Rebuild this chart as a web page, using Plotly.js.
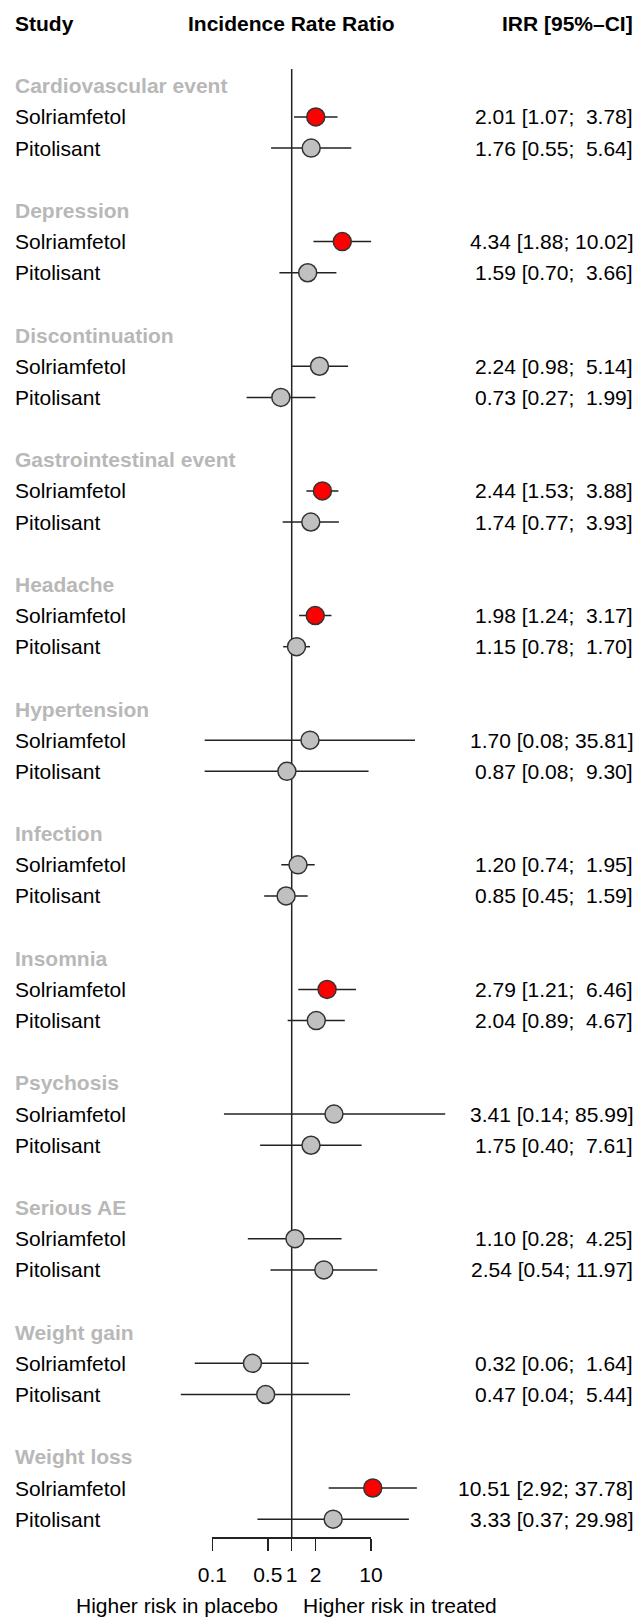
<!DOCTYPE html>
<html>
<head>
<meta charset="utf-8">
<script src="https://cdn.plot.ly/plotly-3.0.1.min.js"></script>
<style>html,body{margin:0;padding:0;background:#fff;}#chart{width:641px;height:1617px;}</style>
</head>
<body>
<div id="chart"></div>
<script>
// ---- data ----
const groups = ["Cardiovascular event","Depression","Discontinuation","Gastrointestinal event","Headache","Hypertension","Infection","Insomnia","Psychosis","Serious AE","Weight gain","Weight loss"];
const treatments = ["Solriamfetol","Pitolisant"];
const solIRR = [2.01,4.34,2.24,2.44,1.98,1.70,1.20,2.79,3.41,1.10,0.32,10.51];
const solLo  = [1.07,1.88,0.98,1.53,1.24,0.08,0.74,1.21,0.14,0.28,0.06,2.92];
const solHi  = [3.78,10.02,5.14,3.88,3.17,35.81,1.95,6.46,85.99,4.25,1.64,37.78];
const pitIRR = [1.76,1.59,0.73,1.74,1.15,0.87,0.85,2.04,1.75,2.54,0.47,3.33];
const pitLo  = [0.55,0.70,0.27,0.77,0.78,0.08,0.45,0.89,0.40,0.54,0.04,0.37];
const pitHi  = [5.64,3.66,1.99,3.93,1.70,9.30,1.59,4.67,7.61,11.97,5.44,29.98];
const tickVals = [0.1,0.5,1,2,10];
const tickLabels = ["0.1","0.5","1","2","10"];
const refValue = 1;

// ---- layout helpers ----
const W = 641, H = 1617;
const FONT = "Liberation Sans, Arial, sans-serif";
const FS = 21;
const rowTop = 85.8, rowPitch = 31.16;
const pxToRow = p => (p - rowTop) / rowPitch;
const pxX = p => p / W;

// rows
const rows = [];
groups.forEach((g, i) => {
  rows.push({type: "head", label: g, row: 4*i});
  rows.push({type: "item", label: treatments[0], row: 4*i+1, est: solIRR[i], lo: solLo[i], hi: solHi[i]});
  rows.push({type: "item", label: treatments[1], row: 4*i+2, est: pitIRR[i], lo: pitLo[i], hi: pitHi[i]});
});
const items = rows.filter(r => r.type === "item");

const fmt = v => v.toFixed(2);
const padU = v => (v < 10 ? "\u00A0" : "") + fmt(v);
const ciText = r => fmt(r.est) + " [" + fmt(r.lo) + "; " + padU(r.hi) + "]";

// CI lines
const ciX = [], ciY = [];
items.forEach(r => { ciX.push(r.lo, r.hi, null); ciY.push(r.row, r.row, null); });

const sig = items.filter(r => r.lo > 1);
const nonsig = items.filter(r => !(r.lo > 1));

const traces = [
  {type: "scatter", mode: "lines", x: [refValue, refValue], y: [pxToRow(69), pxToRow(1537)],
   line: {color: "#222", width: 1.5}, hoverinfo: "skip", showlegend: false},
  {type: "scatter", mode: "lines", x: ciX, y: ciY, connectgaps: false,
   line: {color: "#222", width: 1.5}, hoverinfo: "skip", showlegend: false},
  {type: "scatter", mode: "markers", x: nonsig.map(r => r.est), y: nonsig.map(r => r.row),
   marker: {size: 18, color: "#c0c0c0", line: {color: "#333", width: 1.5}}, showlegend: false, cliponaxis: false},
  {type: "scatter", mode: "markers", x: sig.map(r => r.est), y: sig.map(r => r.row),
   marker: {size: 18, color: "#ff0000", line: {color: "#333", width: 1.5}}, showlegend: false, cliponaxis: false},
  // invisible trace to host the visible tick axis
  {type: "scatter", mode: "none", x: tickVals, y: tickVals.map(() => 0), xaxis: "x2", yaxis: "y2",
   hoverinfo: "skip", showlegend: false}
];

const ann = [];
const txt = (text, xpx, row, anchor, color, bold) => ann.push({
  text: bold ? "<b>" + text + "</b>" : text, xref: "paper", yref: "y", x: pxX(xpx), y: row,
  xanchor: anchor, yanchor: "middle", showarrow: false,
  font: {family: FONT, size: FS, color: color}
});
// header
txt("Study", 13, pxToRow(23), "left", "#000", true);
txt("Incidence Rate Ratio", 291.7, pxToRow(23), "center", "#000", true);
txt("IRR [95%\u2013CI]", 635, pxToRow(23), "right", "#000", true);
rows.forEach(r => {
  if (r.type === "head") {
    txt(r.label, 13, r.row, "left", "#b8b8b8", true);
  } else {
    txt(r.label, 13, r.row, "left", "#000", false);
    txt(ciText(r), 635, r.row, "right", "#000", false);
  }
});
txt("Higher risk in placebo", 280, pxToRow(1605), "right", "#000", false);
txt("Higher risk in treated", 301, pxToRow(1605), "left", "#000", false);

const xLo = (0 - 291.7) / 79.35, xHi = (W - 291.7) / 79.35;
const axPos = 1 - 1537 / H;

const layout = {
  width: W, height: H,
  margin: {l: 0, r: 0, t: 0, b: 0, pad: 0},
  paper_bgcolor: "#fff", plot_bgcolor: "rgba(0,0,0,0)",
  showlegend: false,
  xaxis: {type: "log", range: [xLo, xHi], domain: [0, 1], visible: false, fixedrange: true},
  yaxis: {range: [pxToRow(H), pxToRow(0)], domain: [0, 1], visible: false, fixedrange: true},
  xaxis2: {type: "log", range: [-1, 1], domain: [pxX(212.3), pxX(371)], anchor: "y2",
    showline: true, linecolor: "#222", linewidth: 1.5, ticks: "outside", ticklen: 12, tickwidth: 1.5, tickcolor: "#222",
    tickvals: tickVals, ticktext: tickLabels, showgrid: false, zeroline: false,
    tickfont: {family: FONT, size: FS, color: "#000"}, ticklabelstandoff: 6, fixedrange: true},
  yaxis2: {domain: [axPos, axPos + 0.01], visible: false, range: [0, 1], fixedrange: true},
  annotations: ann
};

Plotly.newPlot("chart", traces, layout, {staticPlot: true, displayModeBar: false});
</script>
</body>
</html>
